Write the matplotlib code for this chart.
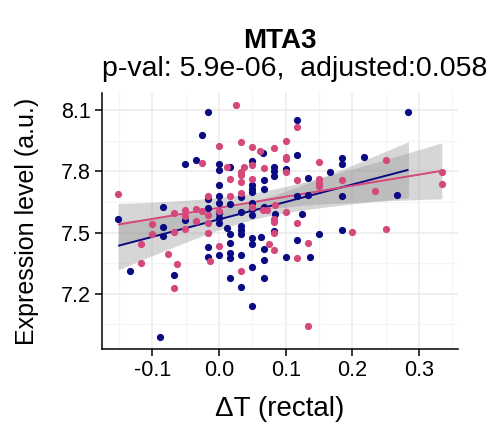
import numpy as np
import matplotlib
matplotlib.use("Agg")
import matplotlib.pyplot as plt
from matplotlib.ticker import MultipleLocator

plt.rcParams['font.family'] = ['Liberation Sans', 'DejaVu Sans']

title = "MTA3"
subtitle = "p-val: 5.9e-06,  adjusted:0.058"
xlabel = "\u0394T (rectal)"
ylabel = "Expression level (a.u.)"

navy_color = "#0a0a82"
pink_color = "#d4487c"

navy_x = [-0.017, -0.026, -0.051, -0.034, 0.000, 0.000, 0.017, 0.050, 0.066, 0.083,
          0.083, 0.083, 0.100, 0.117, 0.117, 0.184, 0.184, 0.217, 0.284, 0.167,
          0.133, 0.000, 0.050, 0.050, 0.050, 0.067, 0.067, 0.117, 0.133, 0.184,
          0.267, 0.000, -0.017, 0.000, 0.016, 0.033, 0.050, -0.084, -0.017, -0.151,
          -0.084, -0.084, -0.051, 0.000, 0.000, 0.000, 0.012, 0.016, 0.033, 0.033,
          0.033, 0.050, 0.050, 0.063, 0.083, 0.016, -0.017, -0.017, 0.000, 0.016,
          0.016, 0.033, 0.067, 0.067, 0.100, 0.050, 0.016, 0.067, 0.033, 0.050,
          -0.134, -0.067, -0.088, 0.125, 0.150, 0.184, 0.117, 0.137, 0.050, 0.050,
          0.033, 0.067, 0.084]
navy_y = [8.090, 7.978, 7.838, 7.854, 7.838, 7.805, 7.824, 7.850, 7.891, 7.824,
          7.801, 7.780, 7.811, 8.052, 7.880, 7.868, 7.836, 7.870, 8.090, 7.797,
          7.767, 7.732, 7.736, 7.715, 7.697, 7.756, 7.712, 7.679, 7.686, 7.681,
          7.686, 7.680, 7.666, 7.647, 7.642, 7.674, 7.647, 7.626, 7.622, 7.567,
          7.529, 7.483, 7.562, 7.598, 7.574, 7.549, 7.525, 7.495, 7.532, 7.511,
          7.492, 7.476, 7.446, 7.479, 7.508, 7.451, 7.427, 7.381, 7.391, 7.402,
          7.373, 7.391, 7.422, 7.365, 7.381, 7.332, 7.277, 7.277, 7.235, 7.140,
          7.311, 7.291, 6.986, 7.593, 7.492, 7.511, 7.464, 7.381, 7.614, 7.585,
          7.599, 7.624, 7.590]

pink_x = [0.025, 0.000, 0.033, 0.050, 0.062, 0.083, 0.100, 0.100, 0.100, -0.026,
          0.012, 0.037, 0.033, 0.033, 0.050, 0.067, 0.100, 0.117, 0.150, 0.250,
          -0.151, 0.016, 0.033, 0.050, 0.117, 0.150, 0.150, 0.150, 0.184, 0.334,
          0.334, 0.234, 0.033, -0.017, 0.016, -0.067, -0.051, -0.034, -0.026, -0.017,
          0.000, 0.050, -0.051, -0.034, -0.101, -0.101, -0.067, -0.051, -0.117, -0.117,
          -0.076, -0.063, -0.067, 0.100, 0.117, 0.083, 0.083, 0.083, 0.083, 0.117,
          0.133, 0.200, 0.250, 0.133, -0.017, -0.017, 0.000, -0.013, 0.075, 0.033,
          0.066, 0.072, 0.084]
pink_y = [8.128, 7.924, 7.947, 7.921, 7.899, 7.913, 7.949, 7.873, 7.859, 7.843,
          7.820, 7.823, 7.799, 7.782, 7.831, 7.815, 7.798, 8.020, 7.845, 7.855,
          7.690, 7.761, 7.748, 7.762, 7.756, 7.764, 7.745, 7.728, 7.757, 7.799,
          7.740, 7.705, 7.694, 7.680, 7.680, 7.595, 7.611, 7.618, 7.606, 7.585,
          7.606, 7.625, 7.581, 7.557, 7.541, 7.495, 7.503, 7.516, 7.443, 7.350,
          7.397, 7.347, 7.228, 7.601, 7.549, 7.569, 7.552, 7.500, 7.415, 7.373,
          7.451, 7.505, 7.518, 7.040, 7.549, 7.500, 7.435, 7.361, 7.443, 7.312,
          7.611, 7.611, 7.634]

xticks = [-0.1, 0.0, 0.1, 0.2, 0.3]
xticklabels = ["-0.1", "0.0", "0.1", "0.2", "0.3"]
yticks = [7.2, 7.5, 7.8, 8.1]
yticklabels = ["7.2", "7.5", "7.8", "8.1"]


def t975(df):
    z = 1.959964
    g1 = (z**3 + z) / 4
    g2 = (5 * z**5 + 16 * z**3 + 3 * z) / 96
    g3 = (3 * z**7 + 19 * z**5 + 17 * z**3 - 15 * z) / 384
    return z + g1 / df + g2 / df**2 + g3 / df**3


def lm_band(x, y, n=80):
    x = np.asarray(x, float)
    y = np.asarray(y, float)
    b1, b0 = np.polyfit(x, y, 1)
    xs = np.linspace(x.min(), x.max(), n)
    fit = b0 + b1 * xs
    resid = y - (b0 + b1 * x)
    dof = len(x) - 2
    s = np.sqrt(np.sum(resid**2) / dof)
    sxx = np.sum((x - x.mean())**2)
    se = s * np.sqrt(1.0 / len(x) + (xs - x.mean())**2 / sxx)
    t = t975(dof)
    return xs, fit, fit - t * se, fit + t * se


W, H = 494, 430
fig = plt.figure(figsize=(W / 100, H / 100), dpi=100)
L, R, T, B = 102, 458, 93, 349
ax = fig.add_axes([L / W, 1 - B / H, (R - L) / W, (B - T) / H])

ax.set_facecolor("white")
for sp in ["top", "right"]:
    ax.spines[sp].set_visible(False)
for sp in ["left", "bottom"]:
    ax.spines[sp].set_linewidth(1.1)
    ax.spines[sp].set_color("black")

for xs_, ys_, col in [(navy_x, navy_y, navy_color), (pink_x, pink_y, pink_color)]:
    xs, fit, lo, hi = lm_band(xs_, ys_)
    ax.fill_between(xs, lo, hi, color="#999999", alpha=0.4, linewidth=0, zorder=2)
    ax.plot(xs, fit, color=col, lw=1.4, zorder=2.5, solid_capstyle="butt")

ax.scatter(navy_x, navy_y, s=27, color=navy_color, linewidths=0, zorder=3)
ax.scatter(pink_x, pink_y, s=27, color=pink_color, linewidths=0, zorder=3)

allx = np.array(navy_x + pink_x)
ally = np.array(navy_y + pink_y)
xr = allx.max() - allx.min()
yr = ally.max() - ally.min()
ax.set_xlim(allx.min() - 0.05 * xr, allx.max() + 0.05 * xr)
ax.set_ylim(ally.min() - 0.05 * yr, ally.max() + 0.05 * yr)

ax.set_xticks(xticks)
ax.set_xticklabels(xticklabels)
ax.set_yticks(yticks)
ax.set_yticklabels(yticklabels)
ax.xaxis.set_minor_locator(MultipleLocator(0.05))
ax.yaxis.set_minor_locator(MultipleLocator(0.15))
ax.tick_params(which="minor", length=0)
ax.tick_params(which="major", length=5, width=1.1, color="black",
               labelsize=15.5, labelcolor="black", pad=3)
ax.grid(which="major", color="#ebebeb", lw=1.1, zorder=0)
ax.grid(which="minor", color="#f4f4f4", lw=0.8, zorder=0)
ax.set_axisbelow(True)

fig.text(280 / W, 1 - 41 / H, title, ha="center", va="center",
         fontsize=20, fontweight="bold")
fig.text(295 / W, 1 - 69 / H, subtitle, ha="center", va="center", fontsize=20.5)
fig.text(280 / W, 1 - 409 / H, xlabel, ha="center", va="center", fontsize=20)
fig.text(27 / W, 1 - 221 / H, ylabel, ha="center", va="center", fontsize=18,
         rotation=90)

fig.savefig("out.png", dpi=100)
